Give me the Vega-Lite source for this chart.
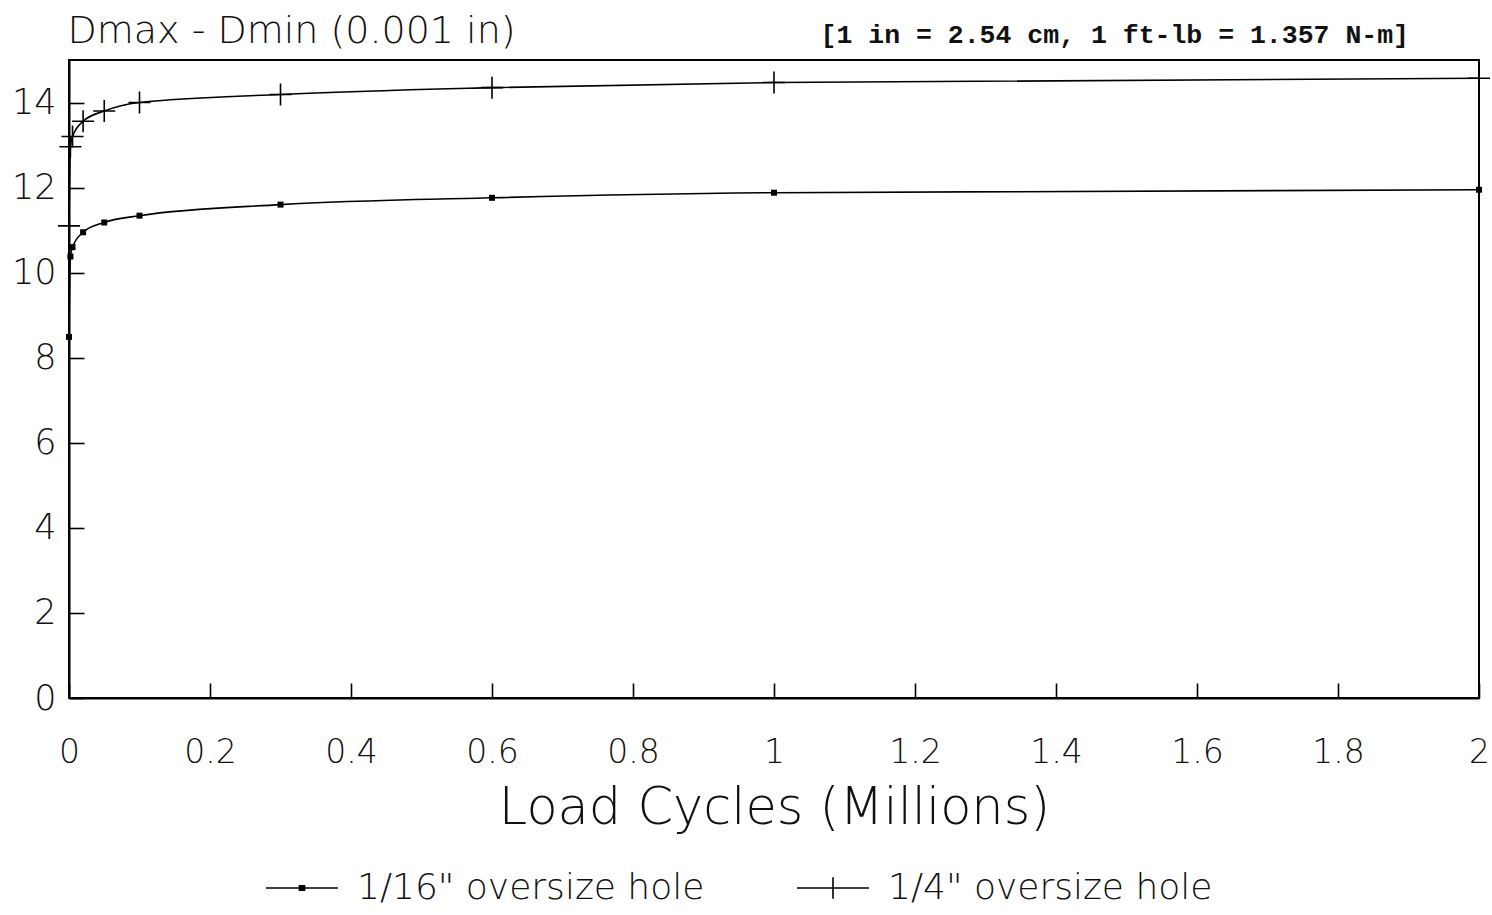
{
  "$schema": "https://vega.github.io/schema/vega-lite/v6.json",
  "width": 1410,
  "height": 638,
  "autosize": "none",
  "padding": {"left": 69, "top": 60, "right": 13, "bottom": 217},
  "background": "white",
  "title": {
    "text": "[1 in = 2.54 cm, 1 ft-lb = 1.357 N-m]",
    "anchor": "end",
    "frame": "group",
    "font": "Liberation Mono",
    "fontSize": 26.5,
    "fontWeight": "bold",
    "color": "#111",
    "dx": -70,
    "dy": 50,
    "offset": 14
  },
  "data": {
    "values": [
      {"series": "1/16\" oversize hole", "cycles": 0.0, "d": 8.49},
      {"series": "1/16\" oversize hole", "cycles": 0.002, "d": 10.38},
      {"series": "1/16\" oversize hole", "cycles": 0.005, "d": 10.6},
      {"series": "1/16\" oversize hole", "cycles": 0.02, "d": 10.95},
      {"series": "1/16\" oversize hole", "cycles": 0.05, "d": 11.18},
      {"series": "1/16\" oversize hole", "cycles": 0.1, "d": 11.34},
      {"series": "1/16\" oversize hole", "cycles": 0.3, "d": 11.6},
      {"series": "1/16\" oversize hole", "cycles": 0.6, "d": 11.76},
      {"series": "1/16\" oversize hole", "cycles": 1.0, "d": 11.88},
      {"series": "1/16\" oversize hole", "cycles": 2.0, "d": 11.95},
      {"series": "1/4\" oversize hole", "cycles": 0.0, "d": 11.1},
      {"series": "1/4\" oversize hole", "cycles": 0.002, "d": 12.96},
      {"series": "1/4\" oversize hole", "cycles": 0.005, "d": 13.2},
      {"series": "1/4\" oversize hole", "cycles": 0.02, "d": 13.56},
      {"series": "1/4\" oversize hole", "cycles": 0.05, "d": 13.8},
      {"series": "1/4\" oversize hole", "cycles": 0.1, "d": 14.0},
      {"series": "1/4\" oversize hole", "cycles": 0.3, "d": 14.19},
      {"series": "1/4\" oversize hole", "cycles": 0.6, "d": 14.35},
      {"series": "1/4\" oversize hole", "cycles": 1.0, "d": 14.47},
      {"series": "1/4\" oversize hole", "cycles": 2.0, "d": 14.57}
    ]
  },
  "encoding": {
    "x": {
      "field": "cycles",
      "type": "quantitative",
      "scale": {"domain": [0, 2], "nice": false, "zero": false},
      "axis": {
        "title": "Load Cycles (Millions)",
        "values": [0, 0.2, 0.4, 0.6, 0.8, 1, 1.2, 1.4, 1.6, 1.8, 2],
        "format": "~g",
        "labelFlush": false,
        "tickSize": -15,
        "labelPadding": 53,
        "titlePadding": 14
      }
    },
    "y": {
      "field": "d",
      "type": "quantitative",
      "scale": {"domain": [0, 15], "nice": false},
      "axis": {
        "title": "Dmax - Dmin (0.001 in)",
        "values": [0, 2, 4, 6, 8, 10, 12, 14],
        "format": "d",
        "labelFlush": false,
        "tickSize": -15,
        "labelPadding": 28,
        "labelFontSize": 35,
        "titleAngle": 0,
        "titleAlign": "left",
        "titleBaseline": "alphabetic",
        "titleX": -2,
        "titleY": -18,
        "titleFontSize": 38
      }
    }
  },
  "layer": [
    {
      "mark": {"type": "line", "interpolate": "monotone", "strokeWidth": 1.6},
      "encoding": {
        "color": {
          "field": "series",
          "type": "nominal",
          "scale": {
            "domain": ["1/16\" oversize hole", "1/4\" oversize hole"],
            "range": ["#000000", "#000000"]
          },
          "legend": {
            "title": null,
            "orient": "none",
            "direction": "horizontal",
            "legendX": 196,
            "legendY": 791,
            "symbolType": "M-1,0H1",
            "symbolSize": 5184,
            "symbolStrokeWidth": 1.6,
            "labelOffset": 18,
            "columnPadding": 88,
            "encode": {
              "symbols": {
                "update": {
                  "shape": {"signal": "datum.index ? 'M-1,0H1M0,-0.3V0.3' : 'M-1,0H1M-0.07,-0.06H0.07V0.06H-0.07Z'"},
                  "stroke": {"value": "#000"},
                  "fill": {"value": "#000"}
                }
              }
            }
          }
        }
      }
    },
    {
      "transform": [{"filter": "datum.series === '1/16\" oversize hole'"}],
      "mark": {"type": "point", "shape": "square", "size": 36, "filled": true, "color": "#000", "opacity": 1}
    },
    {
      "transform": [{"filter": "datum.series === '1/4\" oversize hole'"}],
      "mark": {"type": "point", "shape": "M-1,0H1M0,-1V1", "size": 484, "filled": false, "stroke": "#000", "strokeWidth": 1.6, "opacity": 1}
    }
  ],
  "config": {
    "view": {"stroke": "#000", "strokeWidth": 2},
    "font": "DejaVu Sans",
    "axis": {
      "grid": false,
      "domainColor": "#000",
      "domainWidth": 2,
      "tickColor": "#000",
      "tickWidth": 1.6,
      "labelFont": "DejaVu Sans",
      "labelFontWeight": 200,
      "labelFontSize": 33,
      "labelColor": "#111",
      "titleFont": "DejaVu Sans",
      "titleFontWeight": 200,
      "titleFontSize": 51,
      "titleColor": "#111"
    },
    "legend": {
      "labelFont": "DejaVu Sans",
      "labelFontWeight": 200,
      "labelFontSize": 36,
      "labelColor": "#111",
      "labelLimit": 600
    }
  }
}
